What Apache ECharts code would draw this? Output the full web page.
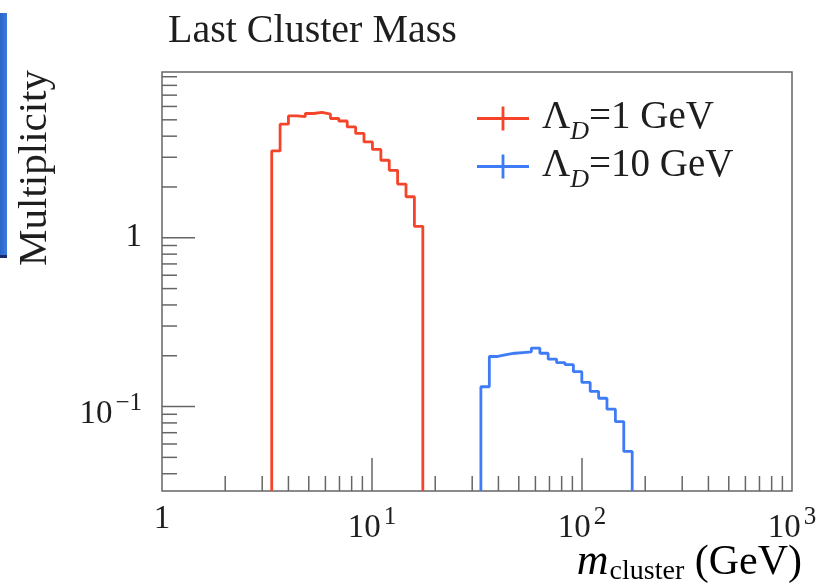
<!DOCTYPE html>
<html>
<head>
<meta charset="utf-8" />
<title>Last Cluster Mass</title>
<style>
  html, body { margin: 0; padding: 0; background: #fff; }
  #chart { width: 825px; height: 586px; }
</style>
<script src="https://cdn.jsdelivr.net/npm/echarts@6/dist/echarts.min.js"></script>
</head>
<body>
<div id="chart"></div>
<script>
// histogram bin edges (GeV) and contents
var redEdges = [3.33, 3.65, 4.00, 4.39, 4.81, 5.27, 5.78, 6.34, 6.95, 7.62, 8.36, 9.16, 10.05, 11.02, 12.08, 13.24, 14.52, 15.92, 17.46];
var redValues = [3.27, 4.71, 5.27, 5.22, 5.45, 5.54, 5.40, 5.09, 4.92, 4.54, 4.15, 3.70, 3.34, 2.88, 2.51, 2.08, 1.75, 1.17];
var blueEdges = [33.0, 36.2, 39.7, 43.6, 47.8, 52.4, 57.4, 63.0, 69.0, 75.7, 83.0, 91.0, 99.8, 109.4, 120.0, 131.5, 144.2, 158.1, 173.4];
var blueValues = [0.131, 0.198, 0.203, 0.207, 0.209, 0.211, 0.222, 0.207, 0.191, 0.182, 0.177, 0.161, 0.139, 0.123, 0.112, 0.0965, 0.0815, 0.0542];
var seriesNames = ['ΛD=1 GeV', 'ΛD=10 GeV'];

// axis ticks and labels
var xMajorTicks = [10, 100];
var xMinorTicks = [2, 3, 4, 5, 6, 7, 8, 9, 20, 30, 40, 50, 60, 70, 80, 90, 200, 300, 400, 500, 600, 700, 800, 900];
var yMajorTicks = [0.1, 1];
var yMinorTicks = [0.04, 0.05, 0.06, 0.07, 0.08, 0.09, 0.2, 0.3, 0.4, 0.5, 0.6, 0.7, 0.8, 0.9, 2, 3, 4, 5, 6, 7, 8, 9];
var xLabelValues = [1, 10, 100, 1000];
var xLabelBase = ['1', '10', '10', '10'];
var xLabelExp = ['', '1', '2', '3'];
var yLabelValues = [1, 0.1];
var yLabelBase = ['1', '10'];
var yLabelExp = ['', '−1'];

var X_MIN = 1, X_MAX = 1000, Y_MIN = 0.0316, Y_MAX = 9.6;
var FONT = 'Liberation Serif';
var AXIS_COLOR = '#666';
var TEXT_COLOR = '#1e1e1e';
var RED = '#f4452b', BLUE = '#3e7bf6';

function outline(edges, values) {
  var pts = [[edges[0], Y_MIN]];
  for (var i = 0; i < values.length; i++) {
    pts.push([edges[i], values[i]]);
    pts.push([edges[i + 1], values[i]]);
  }
  pts.push([edges[edges.length - 1], Y_MIN]);
  return pts;
}

function xTicks(len) {
  return function (params, api) {
    var cs = params.coordSys;
    var x = api.coord([api.value(0), 1])[0];
    var y0 = cs.y + cs.height;
    return { type: 'line', shape: { x1: x, y1: y0, x2: x, y2: y0 - len },
      style: { stroke: AXIS_COLOR, lineWidth: 1.5 } };
  };
}
function yTicks(len) {
  return function (params, api) {
    var cs = params.coordSys;
    var y = api.coord([1, api.value(1)])[1];
    return { type: 'line', shape: { x1: cs.x, y1: y, x2: cs.x + len, y2: y },
      style: { stroke: AXIS_COLOR, lineWidth: 1.5 } };
  };
}

// all rich tokens are top-aligned; padding-top moves a token down
var labelRich = {
  b: { fontFamily: FONT, fontSize: 33, padding: [7, 0, 0, 0], verticalAlign: 'top', color: TEXT_COLOR },
  s: { fontFamily: FONT, fontSize: 25, padding: [0, 0, 0, 3], verticalAlign: 'top', color: TEXT_COLOR }
};
function labelText(base, exp) {
  return exp ? '{b|' + base + '}{s|' + exp + '}' : base;
}

function xLabels(params, api) {
  var i = params.dataIndex;
  var cs = params.coordSys;
  var x = api.coord([api.value(0), 1])[0];
  var exp = xLabelExp[i];
  var y = cs.y + cs.height + (exp ? 34 : 28);
  return { type: 'text', x: x, y: y,
    style: { text: labelText(xLabelBase[i], exp), rich: labelRich, align: 'center', verticalAlign: 'middle',
      fontFamily: FONT, fontSize: 33, fill: TEXT_COLOR } };
}
function yLabels(params, api) {
  var i = params.dataIndex;
  var cs = params.coordSys;
  var y = api.coord([1, api.value(1)])[1];
  var exp = yLabelExp[i];
  return { type: 'text', x: cs.x - 20, y: y + (exp ? 4 : 0),
    style: { text: labelText(yLabelBase[i], exp), rich: labelRich, align: 'right', verticalAlign: 'middle',
      fontFamily: FONT, fontSize: 33, fill: TEXT_COLOR } };
}

function pairsX(vals) { return vals.map(function (v) { return [v, 1]; }); }
function pairsY(vals) { return vals.map(function (v) { return [1, v]; }); }

function legendFor(name, top) {
  return {
    orient: 'vertical', left: 472, top: top,
    itemWidth: 52, itemHeight: 24,
    icon: 'path://M0,10.6 H52 V13.4 H0 Z M24.6,0 H27.4 V24 H24.6 Z',
    symbolKeepAspect: false,
    data: [name],
    formatter: function (n) { return '{a|Λ}{d|D}{a|' + n.slice(2) + '}'; },
    textStyle: {
      padding: [0, 0, 0, 8],
      rich: {
        a: { fontFamily: FONT, fontSize: 39, padding: [6, 0, 0, 0], color: TEXT_COLOR, verticalAlign: 'top' },
        d: { fontFamily: FONT, fontSize: 26, fontStyle: 'italic', padding: [27, 0, 0, 0], color: TEXT_COLOR, verticalAlign: 'top' }
      }
    }
  };
}

var chart = echarts.init(document.getElementById('chart'));
chart.setOption({
  animation: false,
  backgroundColor: '#fff',
  title: {
    text: 'Last Cluster Mass', left: 163, top: 6,
    textStyle: { fontFamily: FONT, fontSize: 40, fontWeight: 'normal', color: TEXT_COLOR }
  },
  legend: [legendFor(seriesNames[0], 93), legendFor(seriesNames[1], 141)],
  grid: {
    left: 162, right: 33, top: 72, bottom: 95,
    show: true, borderColor: AXIS_COLOR, borderWidth: 1.5, backgroundColor: 'transparent'
  },
  xAxis: {
    type: 'log', logBase: 10, min: X_MIN, max: X_MAX,
    axisLine: { show: false }, axisTick: { show: false }, axisLabel: { show: false }, splitLine: { show: false }
  },
  yAxis: {
    type: 'log', logBase: 10, min: Y_MIN, max: Y_MAX,
    axisLine: { show: false }, axisTick: { show: false }, axisLabel: { show: false }, splitLine: { show: false }
  },
  graphic: [
    { type: 'rect', left: 0, top: 13, shape: { width: 7, height: 244 },
      style: { fill: new echarts.graphic.LinearGradient(0, 0, 1, 0, [{ offset: 0, color: '#2a64c8' }, { offset: 1, color: '#3a7be0' }]) } },
    { type: 'rect', left: 0, top: 255, shape: { width: 7, height: 3 }, style: { fill: '#1a2a6a' } },
    { type: 'text', x: 35, y: 70, rotation: Math.PI / 2,
      style: { text: 'Multiplicity', fontFamily: FONT, fontSize: 41, fill: TEXT_COLOR, align: 'right', verticalAlign: 'middle' } },
    { type: 'text', x: 802, y: 563,
      style: {
        text: '{m|m}{c|cluster}{g| (GeV)}', align: 'right', verticalAlign: 'middle',
        rich: {
          m: { fontFamily: FONT, fontSize: 44, fontStyle: 'italic', verticalAlign: 'top', color: TEXT_COLOR },
          g: { fontFamily: FONT, fontSize: 42, padding: [1, 0, 0, 0], verticalAlign: 'top', color: TEXT_COLOR },
          c: { fontFamily: FONT, fontSize: 28, padding: [17, 0, 0, 1], verticalAlign: 'top', color: TEXT_COLOR }
        }
      } }
  ],
  series: [
    { name: seriesNames[0], type: 'line', data: outline(redEdges, redValues), showSymbol: false, symbol: 'none',
      color: RED, lineStyle: { width: 2.8, color: RED }, z: 3 },
    { name: seriesNames[1], type: 'line', data: outline(blueEdges, blueValues), showSymbol: false, symbol: 'none',
      color: BLUE, lineStyle: { width: 2.8, color: BLUE }, z: 3 },
    { type: 'custom', data: pairsX(xMajorTicks), renderItem: xTicks(33), silent: true, z: 2 },
    { type: 'custom', data: pairsX(xMinorTicks), renderItem: xTicks(15), silent: true, z: 2 },
    { type: 'custom', data: pairsY(yMajorTicks), renderItem: yTicks(33), silent: true, z: 2 },
    { type: 'custom', data: pairsY(yMinorTicks), renderItem: yTicks(15), silent: true, z: 2 },
    { type: 'custom', data: pairsX(xLabelValues), renderItem: xLabels, silent: true, clip: false, z: 2 },
    { type: 'custom', data: pairsY(yLabelValues), renderItem: yLabels, silent: true, clip: false, z: 2 }
  ]
});
</script>
</body>
</html>
